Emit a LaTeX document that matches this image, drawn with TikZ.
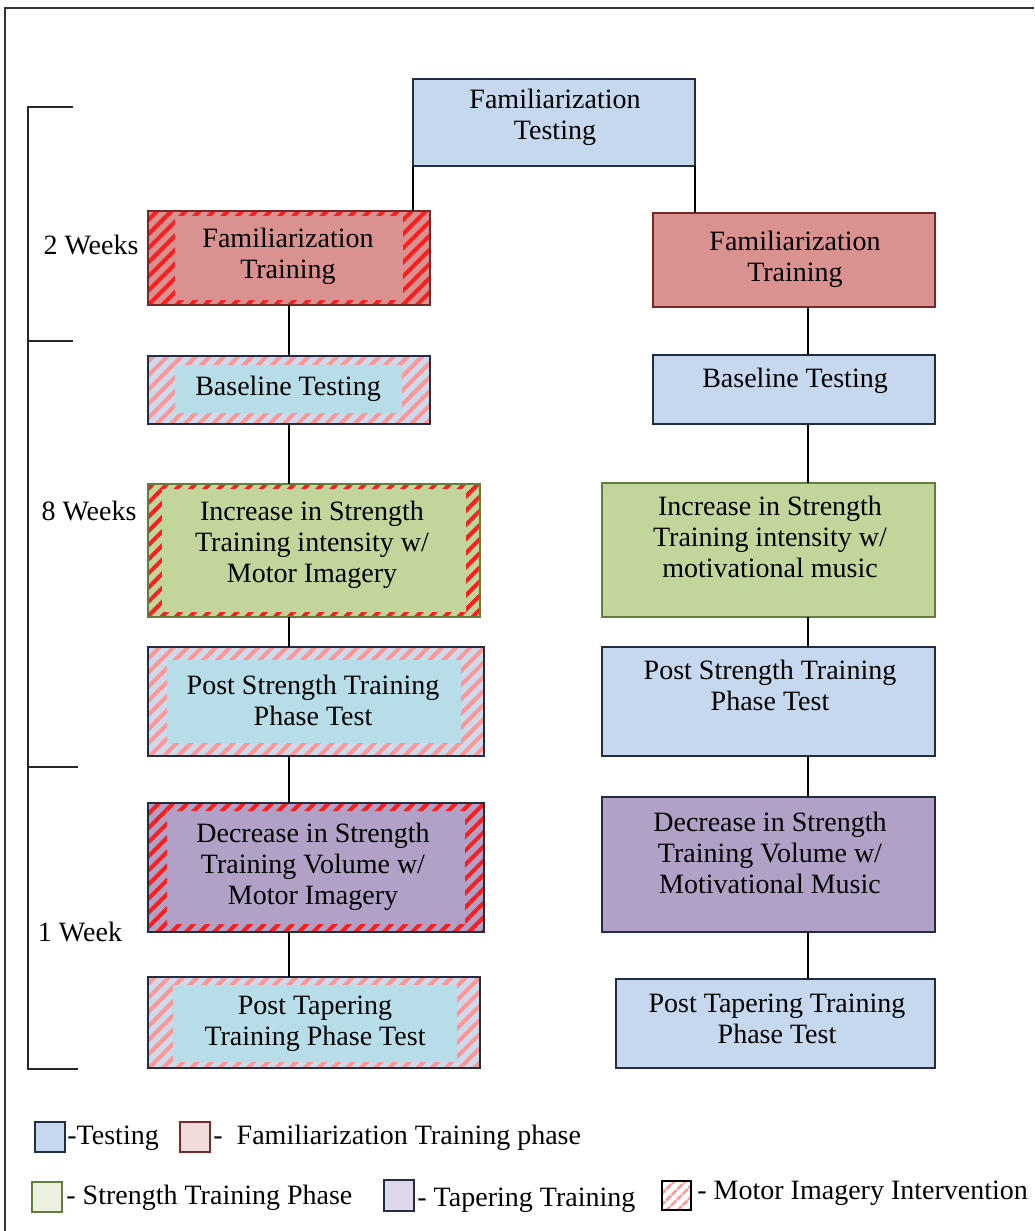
\documentclass[tikz,border=0pt]{standalone}
\usepackage{fontspec}
\setmainfont{Liberation Serif}
\usetikzlibrary{patterns.meta}
\definecolor{testblue}{RGB}{197,216,238}
\definecolor{famred}{RGB}{217,146,144}
\definecolor{stgreen}{RGB}{194,214,155}
\definecolor{taper}{RGB}{178,161,199}
\definecolor{cyanin}{RGB}{183,222,232}
\definecolor{stripered}{RGB}{250,30,30}
\definecolor{stripepink}{RGB}{255,150,150}
\definecolor{hatchbase}{RGB}{205,218,236}
\definecolor{bordernavy}{RGB}{35,45,65}
\definecolor{borderred}{RGB}{120,40,40}
\definecolor{bordergreen}{RGB}{100,125,60}
\definecolor{lgpink}{RGB}{242,220,219}
\definecolor{lggreen}{RGB}{235,241,222}
\definecolor{lgpurple}{RGB}{222,216,234}
\newcommand\mkbox[6]{\node[#6, minimum width={(#4-#2)*0.5pt}, minimum height={(#5-#3)*0.5pt}] (#1) at ({(#2+#4)/2},{(#3+#5)/2}) {};}
\tikzset{
  base/.style={rectangle, inner sep=0pt, outer sep=0pt},
  bluebox/.style={base, fill=testblue, draw=bordernavy, line width=1pt},
  redbox/.style={base, fill=famred, draw=borderred, line width=1pt},
  greenbox/.style={base, fill=stgreen, draw=bordergreen, line width=1pt},
  purplebox/.style={base, fill=taper, draw=bordernavy, line width=1pt},
  plain/.style={base},
  txt/.style={align=center, inner sep=0pt, font=\fontsize{14}{15.5}\selectfont},
  ltxt/.style={anchor=base west, inner sep=0pt, font=\fontsize{14}{15.5}\selectfont},
  conn/.style={draw=black, line width=0.9pt},
  redhatch/.style={pattern={Lines[angle=45,distance=5pt,line width=2pt]}, pattern color=stripered},
  pinkhatch/.style={pattern={Lines[angle=45,distance=5pt,line width=2pt]}, pattern color=stripepink},
  legbox/.style={base, line width=1pt, minimum width=15pt, minimum height=15pt},
}
\begin{document}
\begin{tikzpicture}[x=0.5pt,y=-0.5pt]
\useasboundingbox (0,0) rectangle (1034,1231);
% outer frame
\draw[line width=0.8pt, draw=black!80] (5,1231) -- (5,8) -- (1034,8);

% top box
\mkbox{FT}{413}{79}{695}{166}{bluebox}
\node[txt] (FTt) at (555,117) {Familiarization\\Testing};

% ---------- left column (motor imagery) ----------
% Familiarization Training (hatched red)
\mkbox{FamTrL}{148}{211}{430}{305}{plain, fill=famred}
\fill[redhatch] (FamTrL.south west) rectangle (FamTrL.north east);
\fill[famred] (175,216) rectangle (403,300);
\draw[borderred, line width=1pt] (FamTrL.south west) rectangle (FamTrL.north east);
\node[txt] (FamTrLt) at (288,256) {Familiarization\\Training};

% Baseline Testing
\mkbox{BaseL}{148}{356}{430}{424}{plain, fill=hatchbase}
\fill[pinkhatch] (BaseL.south west) rectangle (BaseL.north east);
\fill[cyanin] (175,365) rectangle (402,413);
\draw[bordernavy, line width=1pt] (BaseL.south west) rectangle (BaseL.north east);
\node[txt] (BaseLt) at (288,389) {Baseline Testing};

% Increase
\mkbox{IncL}{148}{484}{480}{617}{plain, fill=stgreen}
\fill[redhatch] (IncL.south west) rectangle (IncL.north east);
\fill[stgreen] (162,489) rectangle (466,612);
\draw[bordergreen, line width=1pt] (IncL.south west) rectangle (IncL.north east);
\node[txt] (IncLt) at (312,545) {Increase in Strength\\Training intensity w/\\Motor Imagery};

% Post strength
\mkbox{PostSL}{148}{647}{484}{756}{plain, fill=hatchbase}
\fill[pinkhatch] (PostSL.south west) rectangle (PostSL.north east);
\fill[cyanin] (167,660) rectangle (461,743);
\draw[bordernavy, line width=1pt] (PostSL.south west) rectangle (PostSL.north east);
\node[txt] (PostSLt) at (313,700) {Post Strength Training\\Phase Test};

% Decrease
\mkbox{DecL}{148}{803}{484}{932}{plain, fill=taper}
\fill[redhatch] (DecL.south west) rectangle (DecL.north east);
\fill[taper] (167,811) rectangle (465,924);
\draw[bordernavy, line width=1pt] (DecL.south west) rectangle (DecL.north east);
\node[txt] (DecLt) at (313,867) {Decrease in Strength\\Training Volume w/\\Motor Imagery};

% Post tapering
\mkbox{PostTL}{148}{977}{480}{1068}{plain, fill=hatchbase}
\fill[pinkhatch] (PostTL.south west) rectangle (PostTL.north east);
\fill[cyanin] (173,985) rectangle (457,1062);
\draw[bordernavy, line width=1pt] (PostTL.south west) rectangle (PostTL.north east);
\node[txt] (PostTLt) at (315,1024) {Post Tapering\\Training Phase Test};

% ---------- right column (music) ----------
\mkbox{FamTrR}{653}{213}{935}{307}{redbox}
\node[txt] (FamTrRt) at (795,259) {Familiarization\\Training};
\mkbox{BaseR}{653}{355}{935}{424}{bluebox}
\node[txt] (BaseRt) at (795,381) {Baseline Testing};
\mkbox{IncR}{602}{483}{935}{617}{greenbox}
\node[txt] (IncRt) at (770,537) {Increase in Strength\\Training intensity w/\\motivational music};
\mkbox{PostSR}{602}{647}{935}{756}{bluebox}
\node[txt] (PostSRt) at (770,685) {Post Strength Training\\Phase Test};
\mkbox{DecR}{602}{797}{935}{932}{purplebox}
\node[txt] (DecRt) at (770,853) {Decrease in Strength\\Training Volume w/\\Motivational Music};
\mkbox{PostTR}{616}{979}{935}{1068}{bluebox}
\node[txt] (PostTRt) at (777,1019) {Post Tapering Training\\Phase Test};

% ---------- connectors ----------
\coordinate (cl) at (289,0);
\coordinate (cr) at (808,0);
\draw[conn] (FT.south west) -- (FT.south west |- FamTrL.north);
\draw[conn] (FT.south east) -- (FT.south east |- FamTrR.north);
\draw[conn] (FamTrL.south -| cl) -- (BaseL.north -| cl);
\draw[conn] (BaseL.south -| cl) -- (IncL.north -| cl);
\draw[conn] (IncL.south -| cl) -- (PostSL.north -| cl);
\draw[conn] (PostSL.south -| cl) -- (DecL.north -| cl);
\draw[conn] (DecL.south -| cl) -- (PostTL.north -| cl);
\draw[conn] (FamTrR.south -| cr) -- (BaseR.north -| cr);
\draw[conn] (BaseR.south -| cr) -- (IncR.north -| cr);
\draw[conn] (IncR.south -| cr) -- (PostSR.north -| cr);
\draw[conn] (PostSR.south -| cr) -- (DecR.north -| cr);
\draw[conn] (DecR.south -| cr) -- (PostTR.north -| cr);

% ---------- time bracket ----------
\draw[line width=1pt, draw=black!85] (73,107) -- (28,107) -- (28,1069) -- (78,1069);
\draw[line width=1pt, draw=black!85] (28,341) -- (73,341);
\draw[line width=1pt, draw=black!85] (28,767) -- (78,767);
\node[txt] (w2) at (91,245) {2 Weeks};
\node[txt] (w8) at (89,511) {8 Weeks};
\node[txt] (w1) at (80,932) {1 Week};

% ---------- legend ----------
\mkbox{L1}{35}{1122}{65}{1152}{base, fill=testblue, draw=bordernavy, line width=1pt}
\node[ltxt] (L1t) at (67,1144) {-Testing};
\mkbox{L2}{180}{1122}{210}{1152}{base, fill=lgpink, draw=borderred, line width=1pt}
\node[ltxt] (L2t) at (213,1144) {-\enspace Familiarization Training phase};
\mkbox{L3}{32}{1182}{62}{1212}{base, fill=lggreen, draw=bordergreen, line width=1pt}
\node[ltxt] (L3t) at (66,1204) {- Strength Training Phase};
\mkbox{L4}{384}{1180}{414}{1211}{base, fill=lgpurple, draw=bordernavy, line width=1pt}
\node[ltxt] (L4t) at (417,1206) {- Tapering Training};
\mkbox{L5}{662}{1181}{691}{1210}{base, fill=white}
\fill[pattern={Lines[angle=45,distance=4pt,line width=1.5pt]}, pattern color=stripepink] (L5.south west) rectangle (L5.north east);
\draw[black, line width=1pt] (L5.south west) rectangle (L5.north east);
\node[ltxt] (L5t) at (697,1199) {- Motor Imagery Intervention};
\end{tikzpicture}
\end{document}
